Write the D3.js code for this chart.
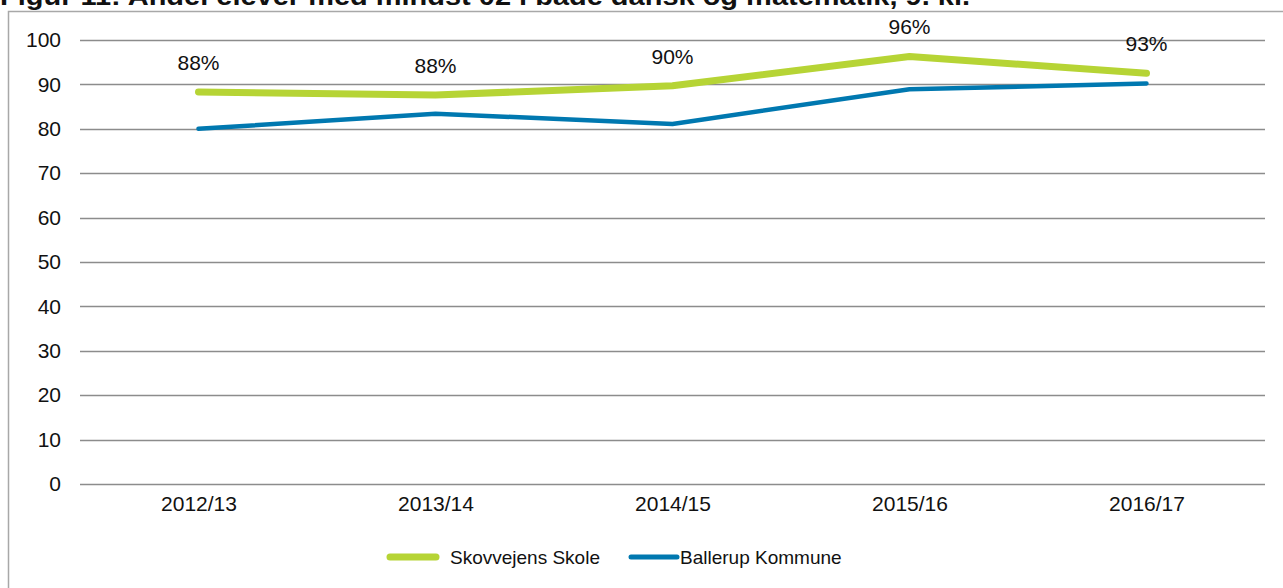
<!DOCTYPE html>
<html>
<head>
<meta charset="utf-8">
<script src="https://cdn.jsdelivr.net/npm/d3@7"></script>
<style>
  body { margin: 0; background: #fff; }
  svg { display: block; font-family: "Liberation Sans", Arial, sans-serif; }
</style>
</head>
<body>
<div id="chart"></div>
<script>
// data
const years = ["2012/13", "2013/14", "2014/15", "2015/16", "2016/17"]
const skole = [88.3, 87.6, 89.7, 96.3, 92.5]
const kommune = [80.0, 83.4, 81.1, 88.9, 90.2]
const skoleLabels = ["88%", "88%", "90%", "96%", "93%"]
const yTicks = [0, 10, 20, 30, 40, 50, 60, 70, 80, 90, 100]
const seriesNames = ["Skovvejens Skole", "Ballerup Kommune"]

const width = 1283, height = 588
const margin = { top: 40, right: 18, bottom: 104, left: 80 }

const svg = d3.select("#chart").append("svg")
  .attr("width", width)
  .attr("height", height)

// title, mostly cut off at the top edge (as in the source)
svg.append("text")
  .attr("x", 0)
  .attr("y", 5)
  .attr("font-weight", "bold")
  .attr("font-size", 25)
  .attr("fill", "#111")
  .attr("textLength", 970)
  .attr("lengthAdjust", "spacingAndGlyphs")
  .text("Figur 11: Andel elever med mindst 02 i både dansk og matematik, 9. kl.")

// outer frame
svg.append("rect")
  .attr("x", 8.5).attr("y", 11.5)
  .attr("width", 1300).attr("height", 600)
  .attr("fill", "none")
  .attr("stroke", "#a8a8a8")
  .attr("stroke-width", 1.5)

const x = d3.scalePoint()
  .domain(years)
  .range([margin.left, width - margin.right])
  .padding(0.5)

const y = d3.scaleLinear()
  .domain([0, 100])
  .range([height - margin.bottom, margin.top])

// gridlines
svg.append("g")
  .selectAll("line")
  .data(yTicks)
  .join("line")
  .attr("x1", margin.left)
  .attr("x2", width - margin.right)
  .attr("y1", d => Math.round(y(d)) + 0.5)
  .attr("y2", d => Math.round(y(d)) + 0.5)
  .attr("stroke", "#8c8c8c")
  .attr("stroke-width", 1.3)

// y axis labels
const yAxis = svg.append("g")
  .attr("transform", `translate(${margin.left},0)`)
  .call(d3.axisLeft(y).tickValues(yTicks).tickSize(0).tickPadding(19))
yAxis.select(".domain").remove()
yAxis.selectAll("text")
  .attr("font-size", 21)
  .attr("font-family", "Liberation Sans, Arial, sans-serif")
  .attr("fill", "#111")

// x axis labels
const xAxis = svg.append("g")
  .attr("transform", `translate(0,${y(0)})`)
  .call(d3.axisBottom(x).tickSize(0).tickPadding(12))
xAxis.select(".domain").remove()
xAxis.selectAll("text")
  .attr("font-size", 21)
  .attr("font-family", "Liberation Sans, Arial, sans-serif")
  .attr("fill", "#111")

const line = d3.line()
  .x((d, i) => x(years[i]))
  .y(d => y(d))

svg.append("path")
  .attr("d", line(kommune))
  .attr("fill", "none")
  .attr("stroke", "#0078b0")
  .attr("stroke-width", 4.5)
  .attr("stroke-linecap", "round")
  .attr("stroke-linejoin", "round")

svg.append("path")
  .attr("d", line(skole))
  .attr("fill", "none")
  .attr("stroke", "#b6d435")
  .attr("stroke-width", 7)
  .attr("stroke-linecap", "round")
  .attr("stroke-linejoin", "round")

// data labels above green line
svg.append("g")
  .selectAll("text")
  .data(skole)
  .join("text")
  .attr("x", (d, i) => x(years[i]))
  .attr("y", d => y(d) - 22)
  .attr("text-anchor", "middle")
  .attr("font-size", 21)
  .attr("fill", "#111")
  .text((d, i) => skoleLabels[i])

// legend
const legendItems = [
  { name: seriesNames[0], color: "#b6d435", w: 7, x0: 390, tx: 450 },
  { name: seriesNames[1], color: "#0078b0", w: 5, x0: 631, tx: 680 }
]
const legend = svg.append("g").attr("transform", "translate(0,557)")
legend.selectAll("line")
  .data(legendItems)
  .join("line")
  .attr("x1", d => d.x0)
  .attr("x2", d => d.x0 + 46)
  .attr("stroke", d => d.color)
  .attr("stroke-width", d => d.w)
  .attr("stroke-linecap", "round")
legend.selectAll("text")
  .data(legendItems)
  .join("text")
  .attr("x", d => d.tx)
  .attr("dy", "0.35em")
  .attr("font-size", 19)
  .attr("fill", "#111")
  .text(d => d.name)
</script>
</body>
</html>
